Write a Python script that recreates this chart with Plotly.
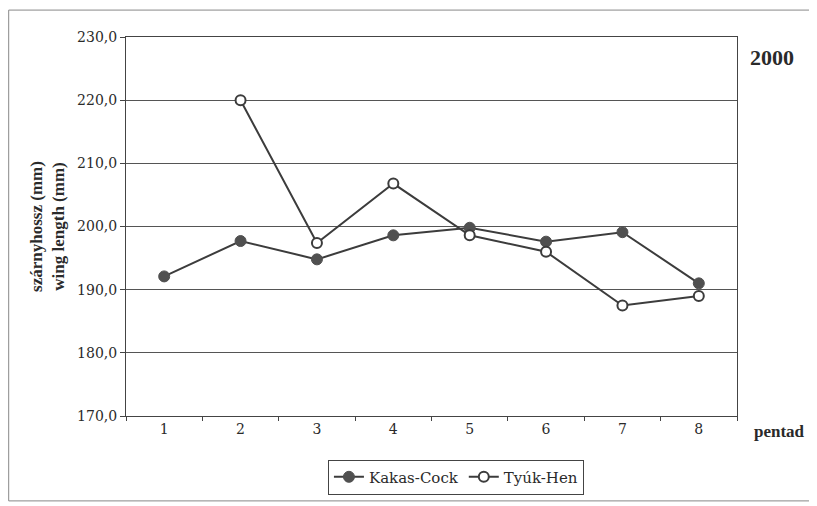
import plotly.graph_objects as go

pentads = ["1", "2", "3", "4", "5", "6", "7", "8"]
cock = [192.1, 197.7, 194.8, 198.6, 199.8, 197.6, 199.1, 191.0]
hen = [None, 220.0, 197.4, 206.8, 198.6, 196.0, 187.5, 189.0]

line_col = "#3c3c3c"
bold_font = "Liberation Serif"
text_font = "DejaVu Serif"

fig = go.Figure()
fig.add_trace(go.Scatter(
    x=pentads, y=cock, name="Kakas-Cock", mode="lines+markers",
    line=dict(color=line_col, width=2),
    marker=dict(symbol="circle", size=11, color="#505050",
                line=dict(color="#505050", width=1)),
))
fig.add_trace(go.Scatter(
    x=pentads, y=hen, name="Tyúk-Hen", mode="lines+markers",
    line=dict(color=line_col, width=2),
    marker=dict(symbol="circle", size=10, color="white",
                line=dict(color=line_col, width=2)),
))

# page body adds 8px offset, so the figure is 8px smaller
fig.update_layout(
    width=809, height=498,
    margin=dict(l=118, r=80, t=29, b=89),
    paper_bgcolor="white", plot_bgcolor="white",
    font=dict(family=text_font, size=14, color="#2a2a2a"),
    separators=", ",
    showlegend=True,
    legend=dict(orientation="h", x=0.54, y=-0.112, xanchor="center", yanchor="top",
                bordercolor="#444", borderwidth=1,
                font=dict(family=text_font, size=15, color="#2a2a2a"),
                tracegroupgap=0),
    xaxis=dict(type="category", range=[-0.5, 7.5], showgrid=False,
               showline=True, linecolor="#444", linewidth=1, mirror=True,
               ticks="outside", tickson="boundaries", ticklen=4, tickcolor="#444",
               tickfont=dict(family=text_font, size=14)),
    yaxis=dict(range=[170, 230], dtick=10, tickformat=".1f",
               showgrid=True, gridcolor="#555", gridwidth=1,
               showline=True, linecolor="#444", linewidth=1, mirror=True,
               ticks="outside", ticklen=5, tickcolor="#444",
               tickfont=dict(family=text_font, size=14),
               title=dict(text="<b>szárnyhossz (mm)<br>wing length (mm)</b>",
                          font=dict(family=bold_font, size=17), standoff=8)),
    annotations=[
        dict(text="<b>2000</b>", x=1.018, y=0.947, xref="paper", yref="paper",
             xanchor="left", yanchor="middle", showarrow=False,
             font=dict(family=bold_font, size=22, color="#2a2a2a")),
        dict(text="<b>pentad</b>", x=1.024, y=-0.042, xref="paper", yref="paper",
             xanchor="left", yanchor="middle", showarrow=False,
             font=dict(family=bold_font, size=17, color="#2a2a2a")),
    ],
    shapes=[
        dict(type="rect", xref="paper", yref="paper", x0=-0.192, x1=1.121,
             y0=-0.224, y1=1.071, line=dict(color="#888", width=1)),
    ],
)

fig.write_html("out.html")
